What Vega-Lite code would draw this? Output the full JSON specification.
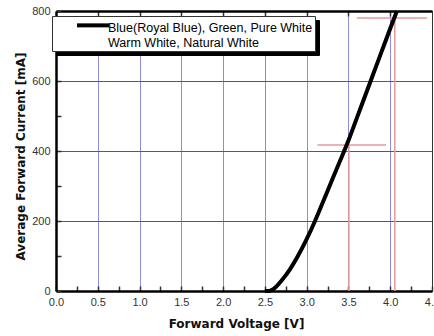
{
  "$schema": "https://vega.github.io/schema/vega-lite/v6.json",
  "width": 376,
  "height": 280,
  "autosize": {"type": "none"},
  "padding": {"left": 56, "top": 11, "right": 2, "bottom": 45},
  "background": "white",
  "config": {
    "view": {"stroke": "#333333", "strokeWidth": 1},
    "axis": {
      "labelFont": "Liberation Sans",
      "labelFontSize": 11,
      "labelColor": "#333333",
      "titleFont": "DejaVu Sans",
      "titleFontSize": 12,
      "titleFontWeight": "bold",
      "titleColor": "#111111",
      "tickColor": "#333333",
      "labelFlush": false,
      "labelOverlap": false
    },
    "legend": {
      "labelFont": "Liberation Sans",
      "labelFontSize": 12.5,
      "labelColor": "#000000",
      "labelLimit": 0
    }
  },
  "datasets": {
    "curve": [
      {"v": 2.5, "i": 0, "s": "Blue(Royal Blue), Green, Pure White|Warm White, Natural White"},
      {"v": 2.55, "i": 0, "s": "Blue(Royal Blue), Green, Pure White|Warm White, Natural White"},
      {"v": 2.6, "i": 5, "s": "Blue(Royal Blue), Green, Pure White|Warm White, Natural White"},
      {"v": 2.7, "i": 30, "s": "Blue(Royal Blue), Green, Pure White|Warm White, Natural White"},
      {"v": 2.8, "i": 62, "s": "Blue(Royal Blue), Green, Pure White|Warm White, Natural White"},
      {"v": 2.9, "i": 102, "s": "Blue(Royal Blue), Green, Pure White|Warm White, Natural White"},
      {"v": 3.0, "i": 148, "s": "Blue(Royal Blue), Green, Pure White|Warm White, Natural White"},
      {"v": 3.1, "i": 200, "s": "Blue(Royal Blue), Green, Pure White|Warm White, Natural White"},
      {"v": 3.2, "i": 257, "s": "Blue(Royal Blue), Green, Pure White|Warm White, Natural White"},
      {"v": 3.3, "i": 315, "s": "Blue(Royal Blue), Green, Pure White|Warm White, Natural White"},
      {"v": 3.4, "i": 372, "s": "Blue(Royal Blue), Green, Pure White|Warm White, Natural White"},
      {"v": 3.5, "i": 430, "s": "Blue(Royal Blue), Green, Pure White|Warm White, Natural White"},
      {"v": 3.6, "i": 494, "s": "Blue(Royal Blue), Green, Pure White|Warm White, Natural White"},
      {"v": 3.7, "i": 558, "s": "Blue(Royal Blue), Green, Pure White|Warm White, Natural White"},
      {"v": 3.8, "i": 622, "s": "Blue(Royal Blue), Green, Pure White|Warm White, Natural White"},
      {"v": 3.9, "i": 686, "s": "Blue(Royal Blue), Green, Pure White|Warm White, Natural White"},
      {"v": 4.0, "i": 750, "s": "Blue(Royal Blue), Green, Pure White|Warm White, Natural White"},
      {"v": 4.08, "i": 800, "s": "Blue(Royal Blue), Green, Pure White|Warm White, Natural White"}
    ],
    "refs": [
      {"x": 3.13, "x2": 3.95, "y": 417, "y2": 417, "s": "Warm White, Natural White|Blue(Royal Blue), Green, Pure White"},
      {"x": 3.505, "x2": 3.505, "y": 0, "y2": 417, "s": "Warm White, Natural White|Blue(Royal Blue), Green, Pure White"},
      {"x": 4.055, "x2": 4.055, "y": 0, "y2": 780, "s": "Warm White, Natural White|Blue(Royal Blue), Green, Pure White"},
      {"x": 3.6, "x2": 4.44, "y": 780, "y2": 780, "s": "Warm White, Natural White|Blue(Royal Blue), Green, Pure White"}
    ]
  },
  "layer": [
    {
      "data": {"name": "refs"},
      "mark": {"type": "rule", "strokeWidth": 1.5},
      "encoding": {
        "x": {
          "field": "x", "type": "quantitative",
          "scale": {"domain": [0, 4.5], "nice": false, "zero": false},
          "axis": {
            "orient": "bottom",
            "title": "Forward Voltage [V]",
            "titleX": 180, "titleY": 32, "titleBaseline": "middle",
            "values": [0, 0.25, 0.5, 0.75, 1, 1.25, 1.5, 1.75, 2, 2.25, 2.5, 2.75, 3, 3.25, 3.5, 3.75, 4, 4.25, 4.5],
            "format": ".1f",
            "labelExpr": "(datum.value * 2) % 1 == 0 ? datum.label : ''",
            "grid": false,
            "domainColor": "#000000", "domainWidth": 2.5,
            "tickSize": -5, "tickWidth": 1.5,
            "labelPadding": 10
          }
        },
        "x2": {"field": "x2"},
        "y": {
          "field": "y", "type": "quantitative",
          "scale": {"domain": [0, 800], "nice": false},
          "axis": {
            "orient": "left",
            "title": "Average Forward Current [mA]",
            "titleX": -36, "titleY": 145, "titleBaseline": "middle", "titleAngle": -90, "titleAlign": "center",
            "values": [0, 100, 200, 300, 400, 500, 600, 700, 800],
            "format": "d",
            "labelExpr": "datum.value % 200 == 0 ? datum.label : ''",
            "grid": false,
            "domainColor": "#000000", "domainWidth": 2.5,
            "tickSize": -5, "tickWidth": 1.5,
            "labelPadding": 11
          }
        },
        "y2": {"field": "y2"},
        "color": {
          "field": "s", "type": "nominal",
          "scale": {"range": ["#e39a9a"]},
          "legend": {
            "orient": "none", "legendX": 0, "legendY": 9,
            "title": null,
            "labelExpr": "split(datum.label, '|')",
            "symbolType": "M-2,-0.33H2",
            "symbolSize": 256,
            "symbolStrokeWidth": 4,
            "symbolOpacity": 0,
            "symbolOffset": 29,
            "labelOffset": 5,
            "labelOpacity": 0,
            "padding": 2,
            "fillColor": "#000000",
            "strokeColor": "#000000",
            "zindex": 1
          }
        }
      }
    },
    {
      "data": {"name": "curve"},
      "mark": {"type": "line", "strokeWidth": 4, "interpolate": "monotone"},
      "encoding": {
        "x": {
          "field": "v", "type": "quantitative",
          "axis": {
            "orient": "top",
            "title": null,
            "values": [0.5, 1, 1.5, 2, 2.5, 3, 3.5, 4],
            "labels": false,
            "grid": true, "gridColor": "#8c8cdc", "gridWidth": 1, "gridOpacity": 1,
            "domainColor": "#000000", "domainWidth": 2.5,
            "tickSize": -5, "tickWidth": 1.5
          }
        },
        "y": {
          "field": "i", "type": "quantitative",
          "axis": {
            "orient": "right",
            "title": null,
            "values": [200, 400, 600],
            "labels": false,
            "ticks": false,
            "grid": true, "gridColor": "#4a4acc", "gridWidth": 1, "gridOpacity": 1,
            "domainColor": "#333333", "domainWidth": 1
          }
        },
        "color": {
          "field": "s", "type": "nominal",
          "scale": {"range": ["#000000"]},
          "legend": {
            "orient": "none", "legendX": -4, "legendY": 5,
            "title": null,
            "labelExpr": "split(datum.label, '|')",
            "symbolType": "M-2,-0.33H2",
            "symbolSize": 256,
            "symbolStrokeWidth": 4,
            "symbolOffset": 29,
            "labelOffset": 5,
            "padding": 2,
            "fillColor": "#ffffff",
            "strokeColor": "#333333",
            "zindex": 2
          }
        }
      }
    }
  ],
  "resolve": {
    "axis": {"x": "independent", "y": "independent"},
    "scale": {"color": "independent"}
  }
}
